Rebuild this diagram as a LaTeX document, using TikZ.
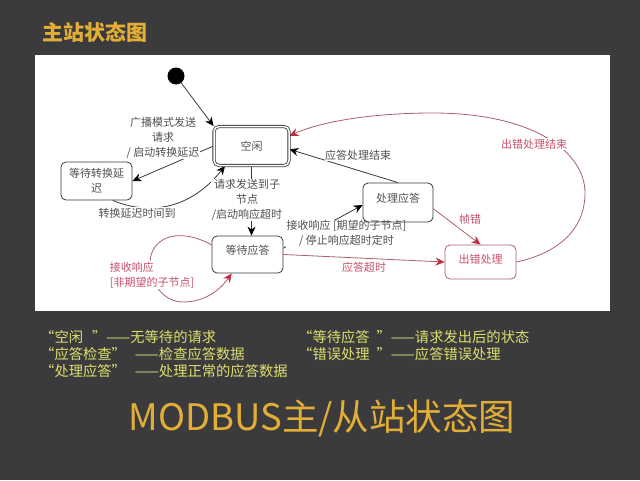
\documentclass[tikz,border=0pt]{standalone}
\usepackage{fontspec}
\setmainfont{Noto Sans CJK SC}
\usetikzlibrary{arrows.meta}
\definecolor{slidebg}{HTML}{3B3B3D}
\definecolor{linegray}{HTML}{3A3A3A}
\definecolor{textgray}{HTML}{505050}
\definecolor{linered}{HTML}{A8616A}
\definecolor{tipred}{HTML}{C42A42}
\definecolor{textred}{HTML}{C8506A}
\definecolor{noteyellow}{HTML}{DEDE6E}
\definecolor{headgold}{HTML}{E3AE35}
\pgfdeclarelayer{conn}
\pgfdeclarelayer{lab}
\pgfsetlayers{conn,lab,main}
\tikzset{
    statebox/.style={draw=linegray,rounded corners=5pt,line width=0.8pt,align=center,text=textgray,
        font=\fontsize{11}{15}\selectfont},
    redbox/.style={statebox,draw=linered,text=textred},
    lab/.style={fill=white,inner sep=0.5pt,align=center,text=textgray,font=\fontsize{11}{15}\selectfont},
    redlab/.style={lab,text=textred},
    blackline/.style={draw=linegray,line width=0.8pt,-{Stealth[length=9pt,width=8pt,color=black,fill=black]}},
    redline/.style={draw=linered,line width=0.8pt,-{Stealth[length=9pt,width=8pt,color=tipred,fill=tipred]}},
    note/.style={anchor=west,text=noteyellow,inner sep=0pt,font=\fontsize{14.3}{16}\selectfont}
}
\begin{document}
\begin{tikzpicture}[x=1pt,y=-1pt]
    \useasboundingbox (0,0) rectangle (640,480);
    \begin{pgfonlayer}{conn}
        \fill[slidebg] (0,0) rectangle (640,480);
        \fill[white] (35,55) rectangle (610,311);
    \end{pgfonlayer}

    \draw (94.5,32) node[text=headgold,font=\fontsize{21}{24}\selectfont\bfseries] (heading) {主站状态图};

    \fill[black] (176,76) circle (8.5) coordinate (init);
    \draw (251.5,146) node[statebox,double,double distance=1.5pt,minimum width=75pt,minimum height=39pt] (idle) {空闲};
    \draw (96.5,181) node[statebox,minimum width=71pt,minimum height=38pt] (delay) {等待转换延\\迟};
    \draw (247.5,254.5) node[statebox,text depth=9pt,minimum width=71pt,minimum height=37pt] (wait) {等待应答};
    \draw (398,202.5) node[statebox,text depth=10pt,minimum width=70pt,minimum height=39pt] (proc) {处理应答};
    \draw (480.5,262) node[redbox,text depth=6pt,minimum width=71pt,minimum height=34pt] (err) {出错处理};

    \begin{pgfonlayer}{conn}
        \draw[blackline] (init) -- (idle.north west);
        \draw[blackline] (idle.west) -- (delay.east);
        \draw[blackline] (delay.-50) .. controls (140,212) and (185,216) .. (idle.-143);
        \draw[blackline] (idle.south) -- (idle.south |- wait.north);
        \draw[blackline] (wait.10) -- (proc.west |- 0,205);
        \draw[blackline] (proc.north) -- (idle.-5);
        \draw[redline] (wait.east) -- (err.west);
        \draw[redline] (proc.-10) -- (err.north);
        \draw[redline] (wait.165) .. controls (175,225) and (150,240) .. (150,263)
            .. controls (150,285) and (165,302) .. (183,302)
            .. controls (205,302) and (220,290) .. (wait.-130);
        \draw[redline] (err.east) .. controls (550,255) and (585,235) .. (585,193)
            .. controls (585,150) and (530,113) .. (433,113)
            .. controls (370,113) and (320,122) .. (idle.15);
    \end{pgfonlayer}

    \begin{pgfonlayer}{lab}
        \draw (163,138) node[lab] (broadcast) {广播模式发送\\请求\\/ 启动转换延迟};
        \draw (137,213) node[lab] (timeout) {转换延迟时间到};
        \draw (247,200) node[lab] (sent) {请求发送到子\\节点\\/启动响应超时};
        \draw (358,155) node[lab] (done) {应答处理结束};
        \draw (346.5,233.5) node[lab] (recv) {接收响应 [期望的子节点]\\[0pt]/ 停止响应超时定时\hspace{28pt}};
        \draw (152,275) node[redlab,align=left] (recvbad) {接收响应\\{[}非期望的子节点{]}};
        \draw (364,267) node[redlab] (late) {应答超时};
        \draw (470,219) node[redlab] (frame) {帧错};
        \draw (534,144) node[redlab] (errdone) {出错处理结束};
    \end{pgfonlayer}

    \draw (40,337) node[note] (noteidle) {“空闲\hspace{9pt}”——无等待的请求};
    \draw (40,354) node[note] (notecheck) {“应答检查”\hspace{9pt}——检查应答数据};
    \draw (40,371) node[note] (noteproc) {“处理应答”\hspace{9pt}——处理正常的应答数据};
    \draw (298,337) node[note] (notewait) {“等待应答\hspace{7pt}”——请求发出后的状态};
    \draw (298,354) node[note] (noteerr) {“错误处理\hspace{7pt}”——应答错误处理};
    \draw (322,418) node[text=headgold,inner sep=0pt,font=\fontsize{36.5}{40}\selectfont] (headline) {MODBUS主/从站状态图};
\end{tikzpicture}
\end{document}
